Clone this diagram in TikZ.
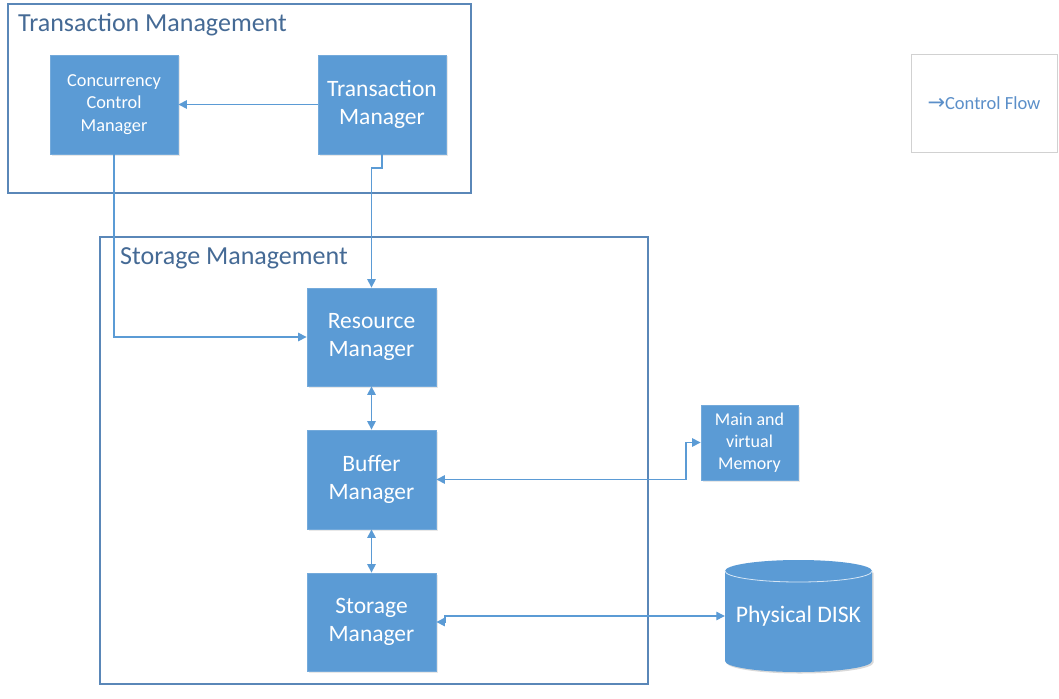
\documentclass[tikz,border=0pt]{standalone}
\usepackage{fontspec}
\setmainfont{Carlito}
\newfontfamily\dejavu{DejaVu Sans}
\usetikzlibrary{arrows.meta,calc,shadows}
\definecolor{boxfill}{HTML}{5B9BD5}
\definecolor{linecol}{HTML}{5B9BD5}
\definecolor{framecol}{HTML}{5A87B8}
\definecolor{titlecol}{HTML}{456A95}
\definecolor{legcol}{HTML}{5B8FC9}
\begin{document}
\begin{tikzpicture}[x=1pt,y=-1pt,
  blockbox/.style={rectangle, fill=boxfill, draw=boxfill!85!white, line width=0.8pt,
    text=white, align=center, inner sep=0pt, minimum width=128pt, minimum height=99pt,
    drop shadow={opacity=0.18, shadow xshift=1.5pt, shadow yshift=-1.5pt},
    font=\fontsize{23.5}{28}\selectfont},
  framebox/.style={draw=framecol, line width=1.2pt},
  titletext/.style={text=titlecol, anchor=base west, inner sep=0pt, font=\fontsize{26}{30}\selectfont},
  flow/.style={draw=linecol, line width=1.2pt, -{Triangle[length=8.5pt,width=8.5pt]}},
  flow2/.style={draw=linecol, line width=1.2pt, {Triangle[length=8.5pt,width=8.5pt]}-{Triangle[length=8.5pt,width=8.5pt]}}
]
\useasboundingbox (0,0) rectangle (1059,698);
\fill[white] (0,0) rectangle (1059,698);

% containers
\draw[framebox] (8,4) rectangle (471,193);
\node[titletext] (ttitle) at (18,31.5) {Transaction Management};
\draw[framebox] (100,237) rectangle (648,684);
\node[titletext] (stitle) at (120,264) {Storage Management};

% blocks
\node[blockbox, font=\fontsize{18.3}{22.5}\selectfont] (ccm) at (114,104.5) {Concurrency\\Control\\Manager};
\node[blockbox] (tm) at (382,104.5) {Transaction\\Manager};
\node[blockbox, minimum width=129pt, minimum height=98pt] (rm) at (371.5,337) {Resource\\Manager};
\node[blockbox, minimum width=129pt] (bm) at (371.5,479.5) {Buffer\\Manager};
\node[blockbox, minimum width=129pt, minimum height=98pt] (sm) at (371.5,622) {Storage\\Manager};
\node[blockbox, minimum width=97pt, minimum height=75pt, font=\fontsize{18}{22}\selectfont] (mem) at (749.5,442.5) {Main and\\virtual\\Memory};

% disk
\fill[black, opacity=0.15] (726.5,572.5) -- (726.5,662.5) arc[start angle=180, end angle=360, x radius=73.5, y radius=-11] -- (873.5,572.5) -- cycle;
\fill[boxfill] (725,571) -- (725,661) arc[start angle=180, end angle=360, x radius=73.5, y radius=-11] -- (872,571) arc[start angle=0, end angle=180, x radius=73.5, y radius=-11] -- cycle;
\draw[white!75!boxfill, line width=0.8pt] (725,571) arc[start angle=180, end angle=360, x radius=73.5, y radius=-11];
\node[inner sep=0pt, minimum width=147pt, minimum height=112pt, text=white, font=\fontsize{23.7}{28}\selectfont] (disk) at (798.5,616) {Physical DISK};

% legend
\node[draw=black!18, line width=0.8pt, minimum width=146pt, minimum height=98pt, inner sep=0pt, text=legcol, font=\fontsize{18.5}{22}\selectfont] (legend) at (984,103) {{\dejavu\fontsize{21}{22}\selectfont →}Control Flow};

% connectors
\draw[flow] (tm.west) -- (ccm.east);
\draw[flow] (ccm.south) |- (rm.west);
\draw[flow] (tm.south) -- (382,168) -- (371.5,168) -- (rm.north);
\draw[flow2] (rm.south) -- (bm.north);
\draw[flow2] (bm.south) -- (sm.north);
\draw[flow2] (bm.east) -- (686,479.5) |- (mem.west);
\draw[flow2] (sm.east) -- (445,622) |- (disk.west);
\end{tikzpicture}
\end{document}
